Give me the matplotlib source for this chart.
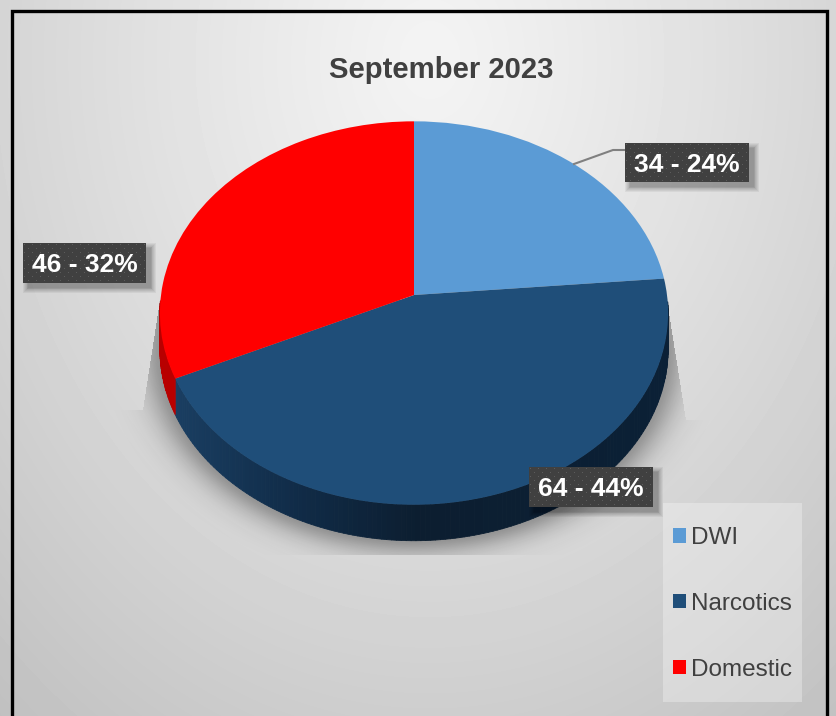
import numpy as np
import matplotlib
matplotlib.use("Agg")
import matplotlib.pyplot as plt
from matplotlib.patches import Rectangle, Patch
from matplotlib.collections import PolyCollection
from matplotlib.transforms import Transform, Affine2D
from matplotlib.colors import to_rgb

categories = ["DWI", "Narcotics", "Domestic"]
values = [34, 64, 46]
colors = ["#5b9bd5", "#1f4e79", "#ff0000"]
title = "September 2023"

W, H = 837, 716
CX, CY, RX, RY, PERSP, DEPTH = 414, 295, 253, 190, 0.094, 36
plt.rcParams["font.family"] = ["Liberation Sans", "DejaVu Sans"]

fig = plt.figure(figsize=(W / 100, H / 100), dpi=100, facecolor="white")
ax = fig.add_axes([0, 0, 1, 1])


class Persp(Transform):
    input_dims = output_dims = 2
    is_separable = False
    has_inverse = False

    def transform_non_affine(self, values):
        v = np.asarray(values, float)
        w = 1 + PERSP * v[:, 1]
        return np.column_stack([v[:, 0] / w, v[:, 1] / w])


def face(dy=0):
    return Persp() + Affine2D().scale(RX, -RY).translate(CX, CY + dy) + ax.transData


wedges, _ = ax.pie(values, colors=colors, startangle=90, counterclock=False,
                   wedgeprops=dict(linewidth=0, zorder=2))
for w in wedges:
    w.set_transform(face())

ax.set_aspect("auto")
ax.set_xlim(0, W)
ax.set_ylim(H, 0)
ax.axis("off")

# background gradient
yy, xx = np.mgrid[0:H, 0:W] + 0.5
d = np.hypot(xx - 430, (yy - 60) * 0.78)
bg = np.clip(0.955 - 0.115 * (d / 410) ** 1.15, 0, 1)
ax.imshow(bg, extent=(0, W, H, 0), cmap="gray", vmin=0, vmax=1, aspect="auto",
          zorder=0, interpolation="bilinear")

# soft shadow under the pie, cut off like the reference
def outside(cy):
    return np.hypot((xx - CX) / 254, (yy - cy) / 192)

dist = np.minimum(outside(313), outside(349)) - 1
dist = np.clip(dist, 0, None) * 230
alpha = 0.32 * np.exp(-(dist / 19) ** 1.5)
left_edge = np.where(yy < 410, 160 - 17 * (yy - 300) / 110, 0)
right_edge = np.where(yy < 420, 663 + 23 * (yy - 275) / 145, W)
mask = (yy > 300) & (yy < 555) & (xx > left_edge) & (xx < right_edge)
shadow = np.zeros((H, W, 4))
shadow[..., 3] = alpha * mask
ax.imshow(shadow, extent=(0, W, H, 0), aspect="auto", zorder=0.5)

# extruded side of the pie
side_x = [170, 300, 420, 670]
side_dark = ["#1a3f63", "#102b47", "#0c1e30", "#0b2036"]
side_rgb = np.array([to_rgb(c) for c in side_dark])
polys, cols = [], []
inv = ax.transData.inverted()
for w, base in zip(wedges, colors):
    th = np.radians(np.linspace(w.theta1, w.theta2, 160))
    th = th[np.sin(th) < -0.02]
    if len(th) < 2:
        continue
    pts = np.column_stack([np.cos(th), np.sin(th)])
    top = inv.transform(face().transform(pts))
    for i in range(len(top) - 1):
        a, b = top[i], top[i + 1]
        polys.append([a, b, b + [0, DEPTH], a + [0, DEPTH]])
        mx = (a[0] + b[0]) / 2
        if base == colors[2]:
            cols.append((0.72, 0.0, 0.0))
        else:
            cols.append(tuple(np.interp(mx, side_x, side_rgb[:, k]) for k in range(3)))
ax.add_collection(PolyCollection(polys, facecolors=cols, edgecolors=cols, linewidths=0.6, zorder=1))

# frame
ax.plot([12.5, 12.5, 827.5, 827.5], [H, 10.5, 10.5, H], color="black", lw=2.4, zorder=3,
        solid_joinstyle="miter")

ax.text(441, 70, title, ha="center", va="center", fontsize=21.1, fontweight="bold", color="#404040", zorder=6)

# leader line
ax.plot([574, 613, 625], [164, 150, 150], color="#808080", lw=1.5, zorder=3)

# data labels
label_boxes = [(625, 143, 124, 39), (529, 467, 124, 40), (23, 243, 123, 40)]
for (x, y, bw, bh), v in zip(label_boxes, values):
    for k in range(7, 0, -1):
        ax.add_patch(Rectangle((x + 6 - 0.8 * k, y + 6 - 0.8 * k), bw + 1.6 * k - 2, bh + 1.6 * k - 2,
                               facecolor="black", edgecolor="none", alpha=0.05, zorder=4))
    tile = np.full((8, 8), 0.25)
    tile[1, 1] = tile[5, 5] = 0.36
    tex = np.tile(tile, (bh // 8 + 1, bw // 8 + 1))[:bh, :bw]
    ax.imshow(tex, extent=(x, x + bw, y + bh, y), cmap="gray", vmin=0, vmax=1, aspect="auto",
              zorder=4.5, interpolation="nearest")
    pct = round(v / sum(values) * 100)
    ax.text(x + bw / 2, y + bh / 2 + 2, f"{v} - {pct}%", ha="center", va="center",
            fontsize=19, fontweight="bold", color="white", zorder=5)

# legend
ax.add_patch(Rectangle((663, 503), 139, 199, facecolor="white", alpha=0.3, edgecolor="none", zorder=3))
handles = [Patch(facecolor=c, label=n) for c, n in zip(colors, categories)]
ax.legend(handles=handles, loc="upper left", bbox_to_anchor=(673, 527), bbox_transform=ax.transData,
          frameon=False, fontsize=17.5, labelcolor="#404040", borderpad=0, borderaxespad=0,
          handlelength=0.55, handleheight=0.55, handletextpad=0.2, labelspacing=1.8)

ax.set_xlim(0, W)
ax.set_ylim(H, 0)
fig.savefig("out.png", dpi=100, facecolor="white")
